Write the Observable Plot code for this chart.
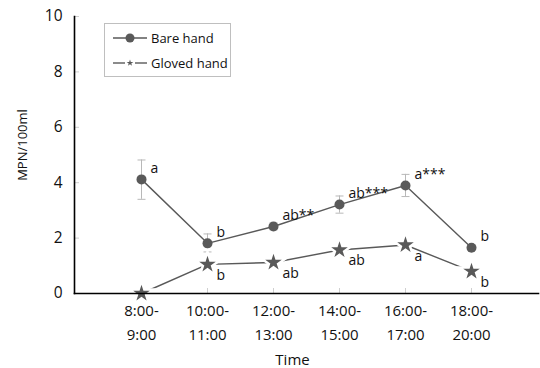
<!DOCTYPE html>
<html>
<head>
<meta charset="utf-8">
<script src="https://cdn.jsdelivr.net/npm/d3@7"></script>
<script src="https://cdn.jsdelivr.net/npm/@observablehq/plot@0.6"></script>
<style>
  html, body { margin: 0; padding: 0; background: #fff; }
  #chart { position: relative; width: 540px; height: 368px; font-family: "Open Sans", sans-serif; }
  #legend { position: absolute; left: 104px; top: 23px; width: 125px; height: 52px; border: 1px solid #bfbfbf; background: #fff; font-size: 13px; color: #111; }
  .row { position: absolute; left: 7px; height: 16px; display: flex; align-items: center; }
  .row svg { margin-right: 3px; }
</style>
</head>
<body>
<div id="chart"></div>
<script>
const times = ["8:00-9:00", "10:00-11:00", "12:00-13:00", "14:00-15:00", "16:00-17:00", "18:00-20:00"];
const bareValues = [4.12, 1.81, 2.42, 3.21, 3.9, 1.65];
const bareLow = [3.4, 1.5, 2.3, 2.9, 3.5, 1.57];
const bareHigh = [4.82, 2.15, 2.55, 3.52, 4.3, 1.72];
const bareLabels = ["a", "b", "ab**", "ab***", "a***", "b"];
const glovedValues = [0, 1.05, 1.12, 1.57, 1.75, 0.8];
const glovedLabels = ["", "b", "ab", "ab", "a", "b"];
const yTicks = [0, 2, 4, 6, 8, 10];

const bare = times.map((t, i) => ({time: t, value: bareValues[i], lo: bareLow[i], hi: bareHigh[i], lab: bareLabels[i]}));
const gloved = times.map((t, i) => ({time: t, value: glovedValues[i], lab: glovedLabels[i]}));

const ink = "#595959";
const cap = {draw(ctx) { ctx.moveTo(-4, 0); ctx.lineTo(4, 0); }};

const chart = Plot.plot({
  width: 540,
  height: 368,
  marginLeft: 74,
  marginRight: 2,
  marginTop: 16,
  marginBottom: 75,
  style: {fontFamily: "'Open Sans', sans-serif", fontSize: "15px", background: "#fff", color: "#111"},
  x: {type: "point", domain: times, padding: 1},
  y: {domain: [0, 10]},
  marks: [
    Plot.axisY({ticks: yTicks, tickSize: 0, tickPadding: 12, fontSize: 15.5, label: null}),
    Plot.axisY({ticks: yTicks, tickSize: -5, stroke: "#cfcfcf", tickFormat: () => "", label: null}),
    Plot.axisX({tickSize: 0, tickPadding: 5, fontSize: 15, lineHeight: 1.6, label: null,
      tickFormat: d => d.replace("-", "-\n")}),
    Plot.axisX({tickSize: -5, stroke: "#cfcfcf", tickFormat: () => "", label: null}),
    Plot.ruleX(bare, {x: "time", y1: "lo", y2: "hi", stroke: "#b8b8b8", strokeWidth: 1}),
    Plot.dot(bare, {x: "time", y: "lo", symbol: cap, stroke: "#b8b8b8", fill: "none", strokeWidth: 1}),
    Plot.dot(bare, {x: "time", y: "hi", symbol: cap, stroke: "#b8b8b8", fill: "none", strokeWidth: 1}),
    Plot.line(bare, {x: "time", y: "value", stroke: ink, strokeWidth: 1.4}),
    Plot.dot(bare, {x: "time", y: "value", r: 5, fill: ink, stroke: "none"}),
    Plot.line(gloved, {x: "time", y: "value", stroke: ink, strokeWidth: 1.4}),
    Plot.dot(gloved, {x: "time", y: "value", symbol: "star", r: 5.2, fill: ink, stroke: "white", strokeWidth: 5, paintOrder: "stroke"}),
    Plot.text(bare, {x: "time", y: "value", text: "lab", dx: 9, dy: -11, textAnchor: "start", fontSize: 14, fill: "#111"}),
    Plot.text(gloved, {x: "time", y: "value", text: "lab", dx: 9, dy: 11, textAnchor: "start", fontSize: 14, fill: "#111"}),
    Plot.frame({anchor: "left", stroke: "#000", strokeWidth: 1.6}),
    Plot.frame({anchor: "bottom", stroke: "#000", strokeWidth: 1.6}),
    Plot.text(["Time"], {frameAnchor: "bottom", dy: 71, dx: -14, fontSize: 15, fill: "#111"}),
    Plot.text(["MPN/100ml"], {frameAnchor: "left", textAnchor: "middle", rotate: -90, dx: -52, dy: -10, fontSize: 13, fill: "#111"})
  ]
});

const root = document.getElementById("chart");
root.appendChild(chart);

const legend = document.createElement("div");
legend.id = "legend";
legend.innerHTML = `
  <div class="row" style="top:6px">
    <svg width="36" height="12"><line x1="1" y1="6" x2="35" y2="6" stroke="${ink}" stroke-width="1.4"/><circle cx="18" cy="6" r="4.5" fill="${ink}"/></svg>
    <span>Bare hand</span>
  </div>
  <div class="row" style="top:31px">
    <svg width="36" height="12"><line x1="1" y1="6" x2="13" y2="6" stroke="${ink}" stroke-width="1.4"/><line x1="23" y1="6" x2="35" y2="6" stroke="${ink}" stroke-width="1.4"/><path transform="translate(18,6)" d="${d3.symbol(d3.symbolStar, 14)()}" fill="${ink}"/></svg>
    <span>Gloved hand</span>
  </div>`;
root.appendChild(legend);
</script>
</body>
</html>
